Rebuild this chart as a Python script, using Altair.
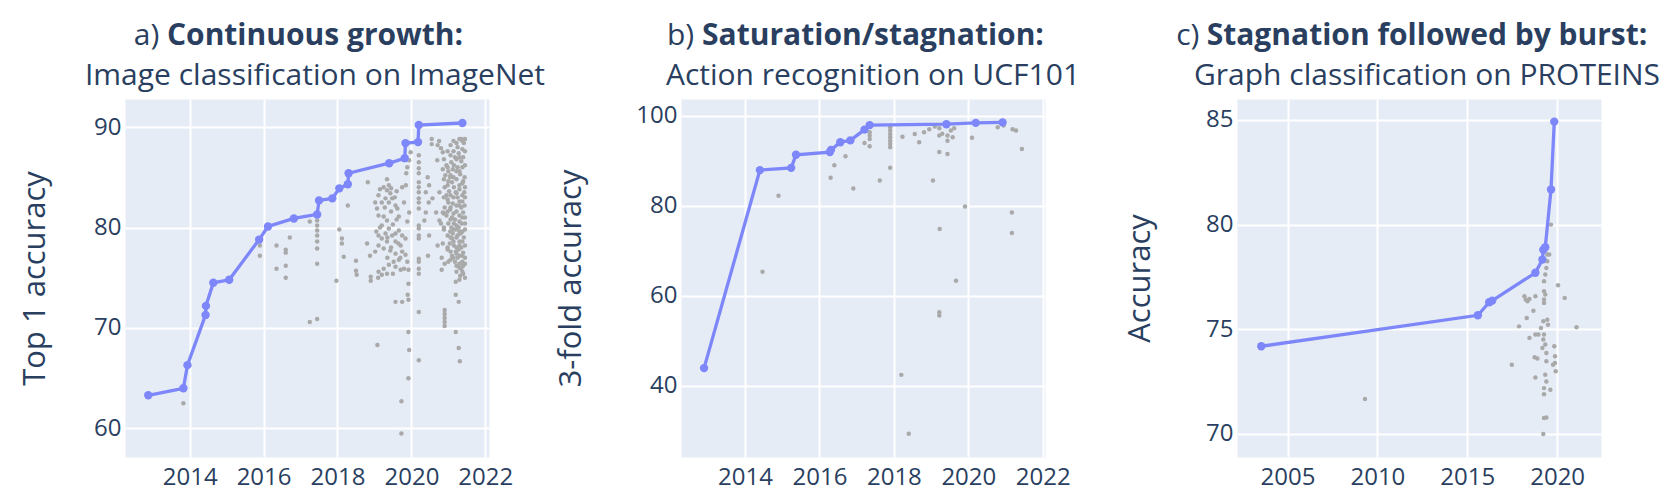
import altair as alt
import pandas as pd

# ---------------- Panel a: ImageNet ----------------
a_sota_year = [2012.88, 2013.83, 2013.94, 2014.43, 2014.44, 2014.64, 2015.07, 2015.88, 2016.12,
               2016.82, 2017.45, 2017.5, 2017.86, 2018.05, 2018.28, 2018.3, 2019.4, 2019.82,
               2019.84, 2020.18, 2020.2, 2021.38]
a_sota_acc = [63.3, 64.0, 66.3, 71.3, 72.2, 74.5, 74.8, 78.8, 80.1, 80.9, 81.3, 82.7, 82.9, 83.9,
              84.3, 85.4, 86.4, 86.9, 88.4, 88.5, 90.2, 90.4]

a_other_year = [
    2013.83, 2015.9, 2015.9, 2016.35, 2016.35, 2016.6, 2016.6, 2016.6, 2016.6, 2016.71, 2017.25,
    2017.45, 2017.45, 2017.45, 2017.45, 2017.45, 2017.45, 2017.45, 2017.25, 2017.45, 2017.97,
    2018.05, 2018.12, 2018.12, 2018.17, 2018.28, 2018.5, 2018.5, 2018.52, 2018.82, 2018.8, 2018.88,
    2018.9, 2018.9, 2019.08, 2019.1, 2019.2, 2019.34,
    2019.34, 2019.39, 2019.34, 2019.43, 2019.3, 2019.11, 2019.2, 2019.39, 2019.57, 2019.62, 2019.48,
    2019.11, 2019.25, 2019.34, 2019.2, 2019.39, 2019.3, 2019.11, 2019.2, 2019.34, 2019.48, 2019.57,
    2019.66, 2019.75, 2019.84, 2019.57, 2019.71, 2019.11, 2019.25, 2019.43, 2019.57, 2019.75,
    2019.84, 2019.66, 2019.52, 2019.39, 2019.25, 2019.11, 2019.57, 2019.71, 2019.89,
    2019.02, 2019.07, 2019.66, 2019.89, 2019.8, 2019.94, 2019.85, 2019.86, 2019.89, 2019.94, 2019.98,
    2019.92, 2019.92, 2019.9, 2019.92, 2019.75, 2019.57, 2019.92, 2019.94, 2019.92, 2019.73, 2019.73,
    2020.2, 2020.2, 2020.2, 2020.2, 2020.2, 2020.2, 2020.2, 2020.2, 2020.2, 2020.2, 2020.2, 2020.2,
    2020.2, 2020.2, 2020.2, 2020.2, 2020.2, 2020.2, 2020.2, 2020.2,
    2020.44, 2020.48, 2020.39, 2020.47, 2020.35, 2020.39, 2020.48, 2020.45, 2020.71, 2020.67, 2020.8,
    2020.76, 2020.76, 2020.57, 2020.85, 2020.71, 2020.8,
    2020.9, 2020.9, 2020.9, 2020.9, 2020.9, 2021.2, 2021.28, 2021.2, 2021.28, 2021.31,
    2021.05, 2021.1, 2021.15, 2021.2, 2021.25, 2021.3, 2021.35, 2021.4, 2021.45,
    2020.95, 2021.0, 2021.08, 2021.18, 2021.28, 2021.38, 2021.42, 2021.35, 2021.25, 2021.32, 2021.4,
    2021.45, 2021.44, 2021.43, 2021.44, 2021.45,
    2020.9, 2020.95, 2021.0, 2021.05, 2021.1, 2021.15, 2021.2, 2021.25, 2021.3, 2021.35, 2021.4, 2021.45,
    2020.9, 2020.95, 2021.0, 2021.05, 2021.1, 2021.15, 2021.2, 2021.25, 2021.3, 2021.35, 2021.4, 2021.45,
    2021.0, 2021.12, 2021.22, 2021.3, 2021.38, 2021.3, 2021.22, 2021.12, 2021.02, 2021.36, 2021.28,
    2021.18, 2021.08, 2021.42, 2021.33, 2021.12, 2021.04, 2021.22, 2021.38, 2021.28, 2021.18, 2021.1,
    2021.32, 2021.22, 2020.88, 2020.85, 2020.82, 2020.98, 2021.4, 2021.35, 2021.25, 2021.4, 2021.15,
    2020.92, 2020.85, 2021.3, 2021.2, 2020.75, 2020.55, 2020.55, 2021.0, 2020.9, 2020.82, 2020.85,
    2020.7,
    # denser 2021 column
    2020.88, 2020.88, 2020.88, 2020.88, 2020.88,
    2020.98, 2020.98, 2020.98, 2020.98, 2020.98, 2020.98, 2020.98,
    2021.06, 2021.06, 2021.06, 2021.06, 2021.06, 2021.06, 2021.06, 2021.06, 2021.06,
    2021.14, 2021.14, 2021.14, 2021.14, 2021.14, 2021.14, 2021.14, 2021.14,
    2021.22, 2021.22, 2021.22, 2021.22, 2021.22, 2021.22, 2021.22, 2021.22, 2021.22,
    2021.3, 2021.3, 2021.3, 2021.3, 2021.3, 2021.3, 2021.3, 2021.3, 2021.3, 2021.3,
    2021.38, 2021.38, 2021.38, 2021.38, 2021.38, 2021.38, 2021.38, 2021.38, 2021.38,
    2021.45, 2021.45, 2021.45, 2021.45, 2021.45, 2021.45, 2021.45,
    # denser 2019-2020 cluster
    2019.15, 2019.25, 2019.45, 2019.55, 2019.28, 2019.45, 2019.6, 2019.5, 2019.35, 2019.65,
    2019.45, 2019.7, 2019.35, 2019.5, 2019.8, 2019.6, 2019.75, 2019.15, 2019.05, 2019.02]
a_other_acc = [
    62.5, 78.2, 77.2, 78.2, 75.9, 77.8, 77.5, 76.2, 75.0, 79.0, 80.6,
    80.7, 80.2, 79.7, 79.2, 78.6, 77.9, 76.4, 70.6, 70.9, 74.7,
    79.8, 78.9, 78.4, 77.1, 82.2, 76.7, 75.7, 75.3, 84.5, 78.4, 77.2,
    75.1, 74.7, 68.3, 75.0, 75.3, 75.4,
    84.8, 84.2, 83.7, 83.4, 82.9, 83.2, 82.5, 82.5, 82.2, 81.9, 82.9,
    81.2, 81.1, 80.7, 80.2, 79.9, 79.4, 79.2, 78.9, 78.6, 79.2, 79.4,
    79.7, 79.2, 78.9, 78.6, 78.2, 78.2, 77.9, 77.7, 77.4, 77.6,
    77.3, 76.8, 76.6, 76.3, 75.9, 75.6, 76.1, 75.8, 76.6,
    82.5, 81.9, 81.1, 80.6, 82.5, 81.5, 84.2, 85.4, 86.0, 86.7, 87.5,
    75.8, 74.4, 73.3, 72.8, 72.6, 72.6, 69.6, 67.8, 65.0, 62.7, 59.5,
    87.2, 86.5, 85.9, 85.4, 84.5, 84.0, 83.5, 82.9, 82.5, 81.9, 80.2, 79.9,
    79.2, 78.9, 76.9, 76.6, 75.9, 75.4, 71.6, 66.8,
    85.0, 84.2, 83.5, 82.5, 80.7, 81.5, 79.2, 77.2, 78.2, 81.5, 80.4,
    80.7, 83.5, 82.9, 81.5, 88.2, 87.9,
    71.8, 71.4, 71.0, 70.6, 70.2, 73.3, 72.6, 69.6, 68.0, 66.7,
    85.0, 84.5, 84.0, 83.5, 83.0, 82.6, 82.0, 81.5, 81.0,
    86.2, 85.6, 86.5, 87.0, 87.4, 87.8, 88.4, 88.8, 86.0, 85.3, 84.6,
    86.2, 85.0, 83.5, 82.2, 79.8,
    84.0, 83.2, 82.5, 81.8, 81.0, 80.4, 79.8, 79.2, 78.6, 78.0, 77.5, 77.0,
    82.0, 81.2, 80.4, 79.6, 78.9, 78.2, 77.6, 77.0, 76.4, 75.9, 75.4, 75.0,
    84.6, 85.8, 84.8, 84.2, 83.2, 81.2, 81.6, 82.4, 83.6, 80.4, 80.0,
    80.8, 80.0, 79.0, 79.4, 79.4, 78.4, 78.0, 76.6, 77.8, 76.6, 77.2,
    75.2, 75.6, 79.8, 78.4, 77.0, 77.8, 76.2, 86.6, 88.0, 87.0, 86.2,
    85.2, 85.8, 74.8, 74.6, 88.6, 88.8, 88.3, 76.6, 76.4, 75.8, 87.5,
    86.7,
    86.8, 84.8, 83.0, 81.4, 80.0,
    87.6, 86.0, 84.2, 82.8, 81.6, 79.2, 78.0,
    88.2, 87.2, 85.2, 83.2, 82.0, 80.8, 79.0, 77.6, 76.8,
    88.6, 87.6, 85.0, 83.0, 81.4, 79.8, 78.6, 77.0,
    88.4, 86.8, 85.6, 83.4, 82.2, 80.2, 79.0, 77.4, 76.2,
    88.8, 87.0, 85.6, 83.8, 82.2, 80.6, 79.6, 78.2, 77.2, 76.0,
    88.6, 86.0, 84.4, 82.6, 81.0, 79.6, 78.6, 77.2, 75.6,
    88.8, 87.6, 84.0, 83.0, 80.4, 78.2, 76.4,
    83.8, 84.0, 83.9, 83.0, 82.0, 81.6, 80.8, 80.3, 79.0, 78.4,
    78.0, 77.0, 77.0, 75.4, 75.9, 83.6, 84.0, 80.0, 79.6, 77.6]

# ---------------- Panel b: UCF101 ----------------
b_sota_year = [2012.9, 2014.4, 2015.24, 2015.37, 2016.28, 2016.31, 2016.56, 2016.83, 2017.21,
               2017.35, 2019.41, 2020.2, 2020.92]
b_sota_acc = [43.9, 87.9, 88.4, 91.3, 91.9, 92.4, 94.1, 94.5, 96.9, 97.9, 98.1, 98.4, 98.5]

b_other_year = [2014.9, 2014.47, 2016.4, 2016.3, 2016.7, 2016.91, 2017.21, 2017.35, 2017.35,
                2017.35, 2017.35, 2017.62, 2017.9, 2017.9, 2017.9, 2017.9, 2017.9, 2017.9, 2017.9,
                2017.9, 2018.23, 2018.56, 2018.68, 2018.81, 2018.95, 2019.05, 2019.22, 2019.22,
                2019.22, 2019.44, 2019.44, 2019.44, 2019.53, 2019.58, 2019.62, 2019.23, 2019.22,
                2019.22, 2019.67, 2019.91, 2020.1, 2020.79, 2021.19, 2021.28, 2021.44, 2021.17,
                2021.17, 2018.2, 2018.4, 2019.1, 2019.3, 2020.95]
b_other_acc = [82.2, 65.3, 89.0, 86.2, 91.0, 83.8, 93.9, 93.2, 94.8, 95.6, 96.3, 85.6, 97.4, 96.7,
               95.9, 95.2, 94.4, 93.7, 93.0, 88.4, 95.3, 95.9, 94.1, 96.3, 97.0, 85.6, 97.2, 95.6,
               91.9, 95.6, 94.4, 91.5, 96.7, 95.2, 97.2, 74.8, 56.3, 55.6, 63.3, 79.8, 95.1, 97.4,
               97.0, 96.7, 92.6, 78.5, 73.9, 42.4, 29.3, 97.6, 96.0, 97.8]

# ---------------- Panel c: PROTEINS ----------------
c_sota_year = [2003.54, 2015.59, 2016.22, 2016.39, 2018.79, 2019.18, 2019.23, 2019.34, 2019.66,
               2019.84]
c_sota_acc = [74.19, 75.67, 76.29, 76.37, 77.7, 78.33, 78.8, 78.92, 81.68, 84.92]

c_other_year = [2009.31, 2017.48, 2017.88, 2018.25, 2018.35, 2018.46, 2018.68, 2018.31, 2018.46,
                2018.79, 2018.96, 2018.79, 2018.18, 2018.75, 2018.9, 2018.79, 2019.1, 2019.23,
                2019.27, 2019.18, 2019.23, 2019.27, 2019.34, 2019.27, 2019.27, 2019.27, 2019.34,
                2019.4, 2019.45, 2019.45, 2019.66, 2019.56, 2019.34, 2019.4, 2019.34, 2019.4,
                2019.27, 2019.27, 2019.62, 2019.27, 2019.4, 2019.23, 2019.84, 2019.88, 2019.77,
                2019.92, 2020.05, 2020.42, 2021.08, 2019.45, 2019.49, 2019.4, 2019.88]
c_other_acc = [71.67, 73.31, 75.14, 76.42, 76.34, 76.45, 75.89, 75.54, 74.59, 74.75, 74.75, 76.58,
               76.58, 73.66, 73.6, 72.7, 75.06, 75.38, 74.75, 74.11, 74.51, 76.82, 76.66, 76.42,
               76.26, 77.3, 77.62, 77.93, 78.25, 78.57, 80.0, 78.57, 74.27, 73.47, 72.83, 72.51,
               72.19, 71.9, 72.11, 70.76, 70.79, 70.0, 74.19, 73.71, 73.31, 73.0, 77.1, 76.5,
               75.1, 75.46, 75.22, 73.87, 73.39]

# ---------------- texts ----------------
letters = ["a)", "b)", "c)"]
bold_titles = ["Continuous growth:", "Saturation/stagnation:", "Stagnation followed by burst:"]
sub_titles = ["Image classification on ImageNet", "Action recognition on UCF101",
              "Graph classification on PROTEINS"]
y_titles = ["Top 1 accuracy", "3-fold accuracy", "Accuracy"]

BLUE = "#7d87f9"
GRAY = "#a9a9a9"
TXT = "#2a3f5f"
W, H = 364, 358
TFS = 30


def panel(i, gx, gy, sx, sy, xdom, ydom, xticks, yticks, letter_x, ytitle_pad, tdx):
    gray = pd.DataFrame({"year": gx, "acc": gy})
    sota = pd.DataFrame({"year": sx, "acc": sy})
    xenc = alt.X("year:Q", scale=alt.Scale(domain=xdom, nice=False, zero=False),
                 axis=alt.Axis(values=xticks, format="d", title=None))
    yenc = alt.Y("acc:Q", scale=alt.Scale(domain=ydom, nice=False, zero=False),
                 axis=alt.Axis(values=yticks, format="d", title=y_titles[i],
                               titlePadding=ytitle_pad))
    g = alt.Chart(gray).mark_circle(color=GRAY, size=20, opacity=1).encode(x=xenc, y=yenc)
    ln = alt.Chart(sota).mark_line(color=BLUE, strokeWidth=3.3).encode(x=xenc, y=yenc)
    pt = alt.Chart(sota).mark_circle(color=BLUE, size=70, opacity=1).encode(x=xenc, y=yenc)
    lt = alt.Chart(pd.DataFrame({"t": [letters[i]]})).mark_text(
        align="right", baseline="alphabetic", font="Open Sans", fontSize=TFS, color=TXT
    ).encode(text="t:N", x=alt.value(letter_x), y=alt.value(-53.7))
    return alt.layer(g, ln, pt, lt).properties(
        width=W, height=H,
        title=alt.TitleParams(
            text=bold_titles[i], subtitle=sub_titles[i], anchor="middle", dx=tdx,
            font="Open Sans", fontSize=TFS, fontWeight="bold", color=TXT,
            subtitleFont="Open Sans", subtitleFontSize=TFS, subtitleFontWeight="normal",
            subtitleColor=TXT, subtitlePadding=9.7, offset=-69.5),
    )


pa = panel(0, a_other_year, a_other_acc, a_sota_year, a_sota_acc, [2012.25, 2022.1],
           [57.16, 92.79], [2014, 2016, 2018, 2020, 2022], [60, 70, 80, 90], 34.4, 42, 8)
pb = panel(1, b_other_year, b_other_acc, b_sota_year, b_sota_acc, [2012.28, 2022.06],
           [24.15, 103.7], [2014, 2016, 2018, 2020, 2022], [40, 60, 80, 100], 13.2, 48, 10)
pc = panel(2, c_other_year, c_other_acc, c_sota_year, c_sota_acc, [2002.19, 2022.44],
           [68.9, 86.0], [2005, 2010, 2015, 2020], [70, 75, 80, 85], -37.6, 49, 8)

chart = alt.hconcat(pa, pb, pc, spacing=192, bounds="flush").properties(
    padding={"left": 19, "top": 20, "right": 5, "bottom": 5},
    background="white",
).configure_view(
    fill="#E5ECF6", stroke="transparent"
).configure_axis(
    grid=True, gridColor="white", gridWidth=2, domain=False, ticks=False, tickSize=0,
    labelFont="Open Sans", labelFontSize=24, labelColor=TXT, labelFlush=False,
    titleFont="Open Sans", titleFontSize=31, titleFontWeight="normal", titleColor=TXT,
).configure_axisX(labelPadding=8).configure_axisY(labelPadding=4)

chart.save("out.html", embed_options={"renderer": "svg", "actions": False})
